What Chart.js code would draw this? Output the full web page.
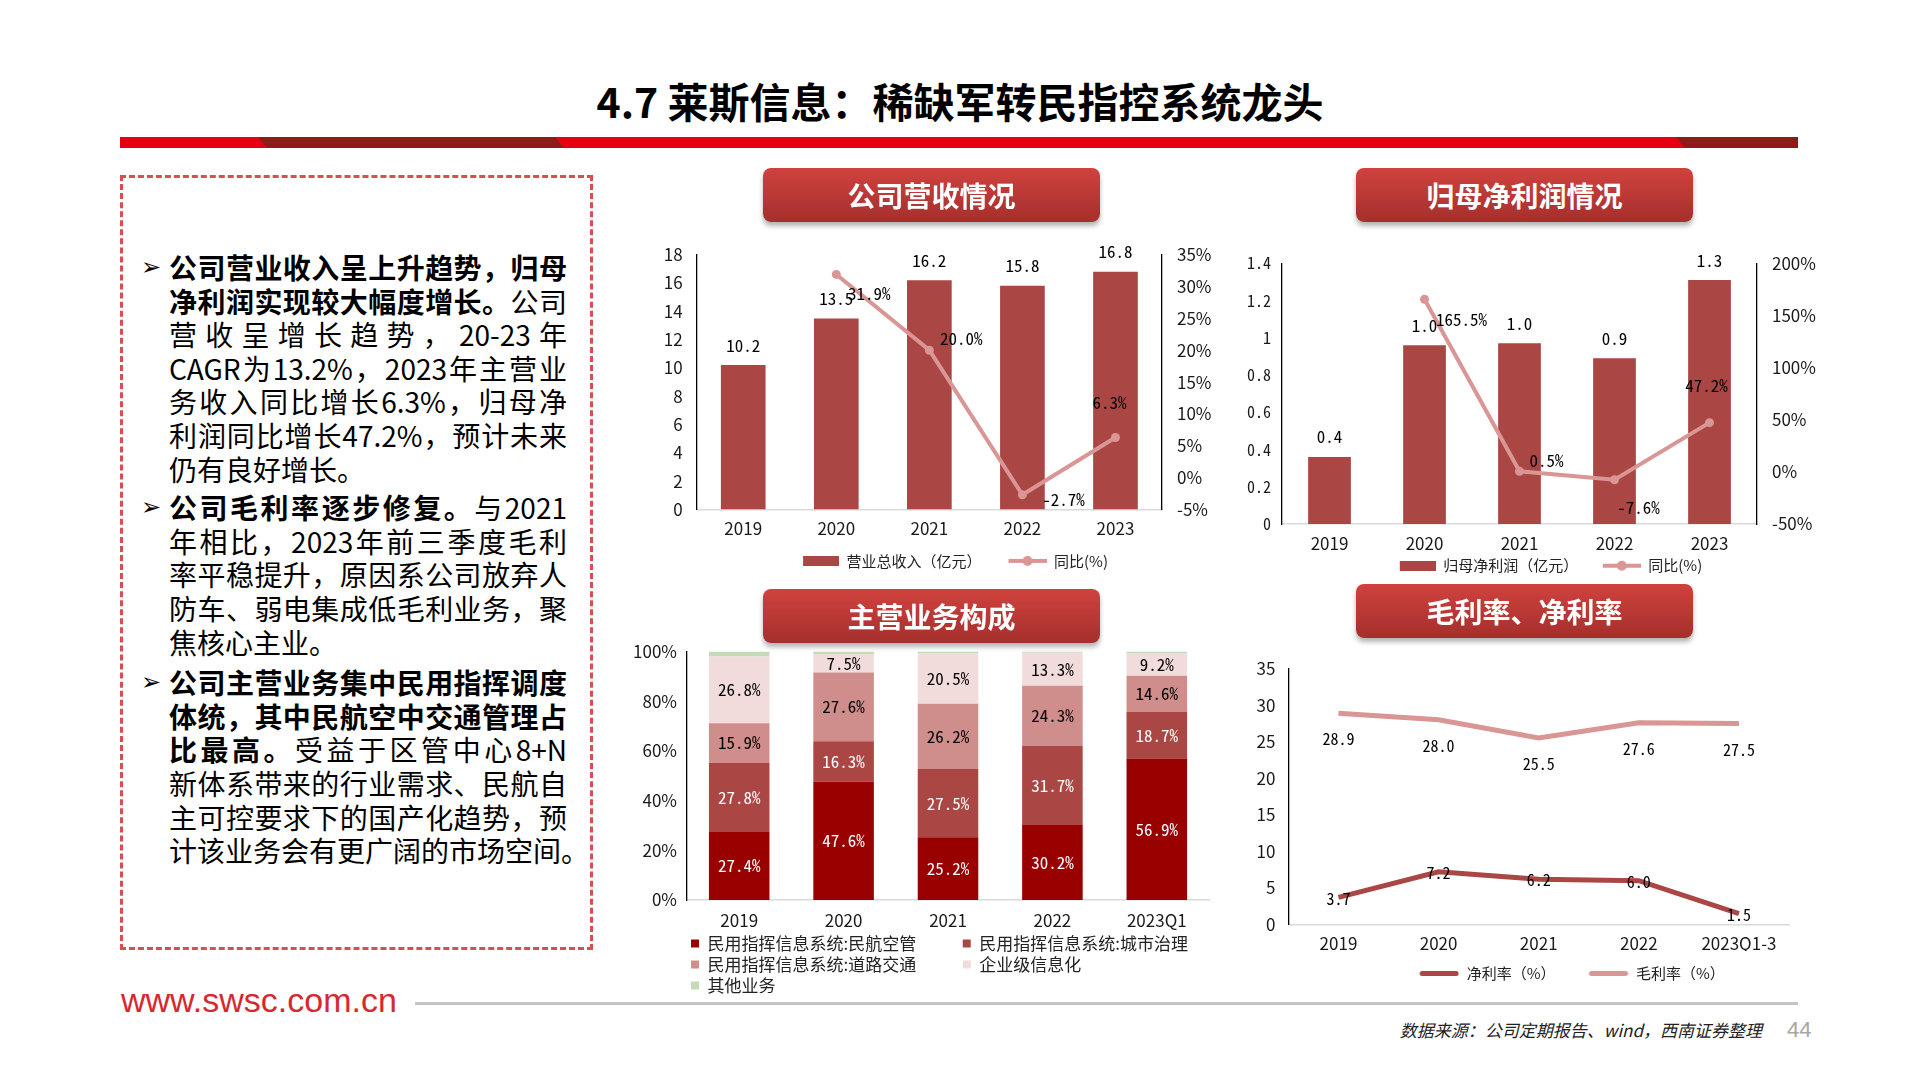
<!DOCTYPE html>
<html lang="zh-CN">
<head>
<meta charset="utf-8">
<title>4.7 莱斯信息</title>
<script src="https://cdn.jsdelivr.net/npm/chart.js@4.4.1/dist/chart.umd.min.js"></script>
<style>
  html, body { margin: 0; padding: 0; background: #fff; }
  #page { position: relative; width: 1920px; height: 1080px; overflow: hidden; font-family: "Noto Sans CJK SC", sans-serif; color: #000; }
  .title { position: absolute; left: 0; top: 75px; width: 1920px; text-align: center; font-size: 41px; line-height: 50px; font-weight: 700; }
  .rule { position: absolute; left: 120px; top: 137px; width: 1678px; height: 11px; background: #E60012; }
  .rule-dark { position: absolute; top: 137px; height: 11px; background: #8E1B17; clip-path: polygon(0 0, calc(100% - 9px) 0, 100% 100%, 9px 100%); }
  .box { position: absolute; left: 120px; top: 175px; width: 467px; height: 769px; border: 3px dashed #D5504E; }
  .notes { position: absolute; left: 144px; top: 251px; width: 423px; font-size: 28px; line-height: 33.6px; }
  .para { position: relative; padding-left: 25px; }
  .para + .para { margin-top: 5px; }
  .para.p3 { margin-top: 7px; }
  .para::before { content: "\27A2"; position: absolute; left: -3px; top: 0; font-family: "DejaVu Sans", sans-serif; font-size: 24px; }
  .ln { display: block; white-space: nowrap; text-align: justify; text-align-last: justify; }
  .ln.end { text-align-last: left; }
  b { font-weight: 700; }
  .btn { position: absolute; width: 337px; height: 54px; border-radius: 8px; background: linear-gradient(#D0423E, #A52F2D); box-shadow: 0 4px 5px rgba(0,0,0,0.3); color: #fff; font-weight: 700; font-size: 28px; line-height: 54px; text-align: center; z-index: 3; }
  canvas { position: absolute; }
  .url { position: absolute; left: 121px; top: 983px; font-family: "Liberation Sans", Arial, sans-serif; font-size: 34px; line-height: 34px; color: #D7282F; }
  .foot-line { position: absolute; left: 415px; top: 1002px; width: 1383px; height: 3px; background: #C4C4C4; }
  .source { position: absolute; right: 158px; top: 1018px; font-size: 17px; line-height: 24px; font-style: italic; color: #222; }
  .pageno { position: absolute; left: 1787px; top: 1016px; font-family: "Liberation Sans", Arial, sans-serif; font-size: 22px; line-height: 28px; color: #A6A6A6; }
</style>
</head>
<body>
<div id="page">
  <div class="title">4.7 莱斯信息：稀缺军转民指控系统龙头</div>
  <div class="rule"></div>
  <div class="rule-dark" style="left:258px;width:306px;"></div>
  <div class="rule-dark" style="left:1676px;width:122px;clip-path:polygon(0 0,100% 0,100% 100%,9px 100%);"></div>

  <div class="box"></div>
  <div class="notes">
    <div class="para">
      <span class="ln"><b>公司营业收入呈上升趋势，归母</b></span>
      <span class="ln"><b>净利润实现较大幅度增长。</b>公司</span>
      <span class="ln">营收呈增长趋势，20-23年</span>
      <span class="ln">CAGR为13.2%，2023年主营业</span>
      <span class="ln">务收入同比增长6.3%，归母净</span>
      <span class="ln">利润同比增长47.2%，预计未来</span>
      <span class="ln end">仍有良好增长。</span>
    </div>
    <div class="para">
      <span class="ln"><b>公司毛利率逐步修复。</b>与2021</span>
      <span class="ln">年相比，2023年前三季度毛利</span>
      <span class="ln">率平稳提升，原因系公司放弃人</span>
      <span class="ln">防车、弱电集成低毛利业务，聚</span>
      <span class="ln end">焦核心主业。</span>
    </div>
    <div class="para p3">
      <span class="ln"><b>公司主营业务集中民用指挥调度</b></span>
      <span class="ln"><b>体统，其中民航空中交通管理占</b></span>
      <span class="ln"><b>比最高。</b>受益于区管中心8+N</span>
      <span class="ln">新体系带来的行业需求、民航自</span>
      <span class="ln">主可控要求下的国产化趋势，预</span>
      <span class="ln end">计该业务会有更广阔的市场空间。</span>
    </div>
  </div>

  <div class="btn" style="left:763px;top:168px;">公司营收情况</div>
  <div class="btn" style="left:1356px;top:168px;">归母净利润情况</div>
  <div class="btn" style="left:763px;top:589px;">主营业务构成</div>
  <div class="btn" style="left:1356px;top:584px;">毛利率、净利率</div>

  <canvas id="revChart" width="619" height="349" style="left:640px;top:232px;"></canvas>
  <canvas id="profitChart" width="623" height="346" style="left:1230px;top:240px;"></canvas>
  <canvas id="mixChart" width="596" height="366" style="left:625px;top:640px;"></canvas>
  <canvas id="marginChart" width="666" height="338" style="left:1230px;top:655px;"></canvas>

  <div class="url">www.swsc.com.cn</div>
  <div class="foot-line"></div>
  <div class="source">数据来源：公司定期报告、wind，西南证券整理</div>
  <div class="pageno">44</div>
</div>

<script>
// ---- data ----
const years = ['2019', '2020', '2021', '2022', '2023'];
const revenue = [10.2, 13.5, 16.2, 15.8, 16.8];          // 营业总收入(亿元)
const revenueYoY = [null, 31.9, 20.0, -2.7, 6.3];        // 同比(%)
const netProfit = [0.36, 0.96, 0.97, 0.89, 1.31];        // 归母净利润(亿元)
const netProfitYoY = [null, 165.5, 0.5, -7.6, 47.2];     // 同比(%)

const mixPeriods = ['2019', '2020', '2021', '2022', '2023Q1'];
const mixAviation = [27.4, 47.6, 25.2, 30.2, 56.9];      // 民航空管
const mixCity = [27.8, 16.3, 27.5, 31.7, 18.7];          // 城市治理
const mixRoad = [15.9, 27.6, 26.2, 24.3, 14.6];          // 道路交通
const mixEnterprise = [26.8, 7.5, 20.5, 13.3, 9.2];      // 企业级信息化
const mixOther = [2.1, 1.0, 0.6, 0.5, 0.6];              // 其他业务

const marginPeriods = ['2019', '2020', '2021', '2022', '2023Q1-3'];
const netMargin = [3.7, 7.2, 6.2, 6.0, 1.5];
const grossMargin = [28.9, 28.0, 25.5, 27.6, 27.5];

const revAxis = { min: 0, max: 18, step: 2 };
const revYoYAxis = { min: -5, max: 35, step: 5 };
const profitAxis = { min: 0, max: 1.4, step: 0.2 };
const profitYoYAxis = { min: -50, max: 200, step: 50 };
const mixAxis = { min: 0, max: 100, step: 20 };
const marginAxis = { min: 0, max: 35, step: 5 };

// ---- look ----
const BAR = '#AA4643';
const LINE = '#D99694';
const DARK = '#990000';
const PALE = '#F2DCDB';
const GREEN = '#C5DAB7';
const NARROW = "'Liberation Sans Narrow', 'Arial Narrow', 'Noto Sans CJK SC', sans-serif";
const MONO = "'Noto Sans Mono CJK SC', 'DejaVu Sans Mono', monospace";
const CJK = "'Noto Sans CJK SC', sans-serif";

Chart.defaults.color = '#1a1a1a';
Chart.defaults.font.family = NARROW;
Chart.defaults.animation = false;

// legend icons; the transparent strip on the left widens the gap between legend items
function icon(w, h, draw) {
  const c = document.createElement('canvas');
  c.width = w; c.height = h;
  draw(c.getContext('2d'));
  return c;
}
const barIcon = m => icon(38 + m, 10, g => { g.fillStyle = BAR; g.fillRect(m + 2, 0, 36, 10); });
const dotLineIcon = m => icon(38 + m, 12, g => {
  g.strokeStyle = LINE; g.lineWidth = 4;
  g.beginPath(); g.moveTo(m, 6); g.lineTo(m + 38, 6); g.stroke();
  g.fillStyle = LINE; g.beginPath(); g.arc(m + 19, 6, 5, 0, Math.PI * 2); g.fill();
});
const lineIcon = (m, color) => icon(40 + m, 7, g => {
  g.strokeStyle = color; g.lineWidth = 5; g.lineCap = 'round';
  g.beginPath(); g.moveTo(m + 3, 3.5); g.lineTo(m + 37, 3.5); g.stroke();
});

// value labels drawn from the elements the library has laid out
function valueLabels(sets) {
  return {
    id: 'valueLabels',
    afterDatasetsDraw(chart) {
      const ctx = chart.ctx;
      ctx.save();
      ctx.textAlign = 'center';
      ctx.textBaseline = 'middle';
      sets.forEach(set => {
        const values = chart.data.datasets[set.dataset].data;
        ctx.font = set.font;
        ctx.fillStyle = set.color || '#000';
        chart.getDatasetMeta(set.dataset).data.forEach((el, i) => {
          const v = values[i];
          if (v === null || v === undefined) return;
          const off = set.offsets ? set.offsets[i] : set.offset;
          const y = set.center ? (el.y + el.base) / 2 : el.y;
          ctx.fillText(set.format(v), el.x + off[0], y + off[1]);
        });
      });
      ctx.restore();
    }
  };
}

// fixed axis sizes; vertical axes also drop their label overhang so layout padding decides the top
const fixWidth = w => s => { s.width = w; s.paddingTop = 0; s.paddingBottom = 0; };
const fixHeight = h => s => { s.height = h; };
const noGrid = { display: false, drawTicks: false };
const blackBorder = { color: '#000', width: 1.3 };
const greyBorder = { color: '#D9D9D9', width: 1.5 };
const pct = v => v + '%';

function comboLegend(icons, padding) {
  return {
    position: 'bottom',
    labels: {
      usePointStyle: true,
      pointStyleWidth: icons[0].width,
      padding: padding,
      color: '#222',
      font: { family: CJK, size: 15 },
      sort: (a, b) => a.datasetIndex - b.datasetIndex,
      generateLabels(chart) {
        const items = Chart.defaults.plugins.legend.labels.generateLabels(chart);
        items.forEach(it => { it.pointStyle = icons[it.datasetIndex]; });
        return items;
      }
    }
  };
}

// ---- 公司营收情况 ----
new Chart(document.getElementById('revChart'), {
  type: 'bar',
  data: {
    labels: years,
    datasets: [
      { label: '营业总收入（亿元）', data: revenue, backgroundColor: BAR, yAxisID: 'y',
        barPercentage: 0.48, categoryPercentage: 1, order: 1 },
      { type: 'line', label: '同比(%)', data: revenueYoY, borderColor: LINE, backgroundColor: LINE,
        borderWidth: 4, pointRadius: 4.5, pointBorderWidth: 0, pointBackgroundColor: LINE,
        yAxisID: 'y1', order: 0 }
    ]
  },
  options: {
    responsive: false,
    layout: { padding: { top: 22.7, bottom: 2.6, left: 0, right: 0 } },
    plugins: { legend: comboLegend([barIcon(10), dotLineIcon(10)], 17), tooltip: { enabled: false } },
    scales: {
      x: { grid: noGrid, border: greyBorder, ticks: { padding: 9.4, font: { size: 17 } }, afterFit: fixHeight(27) },
      y: { position: 'left', min: revAxis.min, max: revAxis.max, grid: noGrid, border: blackBorder,
        ticks: { stepSize: revAxis.step, padding: 14, font: { size: 17 } }, afterFit: fixWidth(56.7) },
      y1: { position: 'right', min: revYoYAxis.min, max: revYoYAxis.max, grid: noGrid, border: blackBorder,
        ticks: { stepSize: revYoYAxis.step, padding: 15, font: { size: 17 }, callback: pct }, afterFit: fixWidth(97) }
    }
  },
  plugins: [valueLabels([
    { dataset: 0, font: '17px ' + MONO, offset: [0, -20], format: v => v.toFixed(1) },
    { dataset: 1, font: '17px ' + MONO, offsets: [[0, 0], [33, 19], [32, -12], [41, 5], [-6, -35]],
      format: v => v.toFixed(1) + '%' }
  ])]
});

// ---- 归母净利润情况 ----
new Chart(document.getElementById('profitChart'), {
  type: 'bar',
  data: {
    labels: years,
    datasets: [
      { label: '归母净利润（亿元）', data: netProfit, backgroundColor: BAR, yAxisID: 'y',
        barPercentage: 0.45, categoryPercentage: 1, order: 1 },
      { type: 'line', label: '同比(%)', data: netProfitYoY, borderColor: LINE, backgroundColor: LINE,
        borderWidth: 4, pointRadius: 4.5, pointBorderWidth: 0, pointBackgroundColor: LINE,
        yAxisID: 'y1', order: 0 }
    ]
  },
  options: {
    responsive: false,
    layout: { padding: { top: 23.3, bottom: 2.8, left: 0, right: 0 } },
    plugins: { legend: comboLegend([barIcon(17), dotLineIcon(17)], 7.5), tooltip: { enabled: false } },
    scales: {
      x: { grid: noGrid, border: greyBorder, ticks: { padding: 9.5, font: { size: 17 } }, afterFit: fixHeight(26.7) },
      y: { position: 'left', min: profitAxis.min, max: profitAxis.max, grid: noGrid, border: blackBorder,
        ticks: { stepSize: profitAxis.step, padding: 11, font: { family: MONO, size: 16 },
          callback: v => String(+v.toFixed(1)) }, afterFit: fixWidth(52) },
      y1: { position: 'right', min: profitYoYAxis.min, max: profitYoYAxis.max, grid: noGrid, border: blackBorder,
        ticks: { stepSize: profitYoYAxis.step, padding: 15, font: { size: 17 }, callback: pct }, afterFit: fixWidth(96) }
    }
  },
  plugins: [valueLabels([
    { dataset: 0, font: '17px ' + MONO, offset: [0, -20], format: v => v.toFixed(1) },
    { dataset: 1, font: '17px ' + MONO, offsets: [[0, 0], [37, 20], [27, -11], [24, 28], [-3, -37]],
      format: v => v.toFixed(1) + '%' }
  ])]
});

// ---- 主营业务构成 ----
const mixNames = ['民用指挥信息系统:民航空管', '民用指挥信息系统:城市治理', '民用指挥信息系统:道路交通', '企业级信息化', '其他业务'];
const mixColors = [DARK, BAR, '#CF8E8C', PALE, GREEN];
const mixSeries = [mixAviation, mixCity, mixRoad, mixEnterprise, mixOther];
new Chart(document.getElementById('mixChart'), {
  type: 'bar',
  data: {
    labels: mixPeriods,
    datasets: mixSeries.map((d, i) => ({
      label: mixNames[i], data: d, backgroundColor: mixColors[i],
      barPercentage: 0.58, categoryPercentage: 1
    }))
  },
  options: {
    responsive: false,
    layout: { padding: { top: 11.4, bottom: 2, left: 0, right: 12 } },
    plugins: {
      tooltip: { enabled: false },
      legend: {
        position: 'bottom',
        align: 'start',
        fullSize: false,
        labels: {
          boxWidth: 8, boxHeight: 8, padding: 4, color: '#222',
          font: { family: CJK, size: 17 },
          generateLabels(chart) {
            const items = Chart.defaults.plugins.legend.labels.generateLabels(chart);
            // two-column look: trailing blank space keeps the columns apart
            items[0].text += '\u3000\u3000\u2002';
            items[2].text += '\u3000\u3000\u2002';
            items[3].text = items[3].text.padEnd(12, '\u3000');
            return items;
          }
        }
      }
    },
    scales: {
      x: { stacked: true, grid: noGrid, border: greyBorder, ticks: { padding: 10.8, font: { size: 17 } }, afterFit: fixHeight(31) },
      y: { stacked: true, min: mixAxis.min, max: mixAxis.max, grid: noGrid, border: blackBorder,
        ticks: { stepSize: mixAxis.step, padding: 10, font: { size: 17 }, callback: pct }, afterFit: fixWidth(62) }
    }
  },
  plugins: [valueLabels([0, 1, 2, 3].map(i => ({
    dataset: i, center: true, font: '17px ' + MONO, offset: [0, 0],
    color: i < 2 ? '#fff' : '#000', format: v => v.toFixed(1) + '%'
  })))]
});

// ---- 毛利率、净利率 ----
new Chart(document.getElementById('marginChart'), {
  type: 'line',
  data: {
    labels: marginPeriods,
    datasets: [
      { label: '净利率（%）', data: netMargin, borderColor: BAR, backgroundColor: BAR, borderWidth: 5, pointRadius: 0 },
      { label: '毛利率（%）', data: grossMargin, borderColor: LINE, backgroundColor: LINE, borderWidth: 5, pointRadius: 0 }
    ]
  },
  options: {
    responsive: false,
    layout: { padding: { top: 13.6, bottom: 2, left: 0, right: 0 } },
    plugins: { legend: comboLegend([lineIcon(18, BAR), lineIcon(18, LINE)], 15), tooltip: { enabled: false } },
    scales: {
      x: { offset: true, grid: noGrid, border: greyBorder, ticks: { padding: 9.3, font: { size: 17 } }, afterFit: fixHeight(26.5) },
      y: { min: marginAxis.min, max: marginAxis.max, grid: noGrid, border: blackBorder,
        ticks: { stepSize: marginAxis.step, padding: 13, font: { size: 17 } }, afterFit: fixWidth(58.4) },
      spacer: { position: 'right', grid: noGrid, border: { display: false }, ticks: { display: false }, afterFit: fixWidth(107) }
    }
  },
  plugins: [valueLabels([
    { dataset: 0, font: '16px ' + MONO, offset: [0, 1], format: v => v.toFixed(1) },
    { dataset: 1, font: '16px ' + MONO, offset: [0, 26], format: v => v.toFixed(1) }
  ])]
});
</script>
</body>
</html>
